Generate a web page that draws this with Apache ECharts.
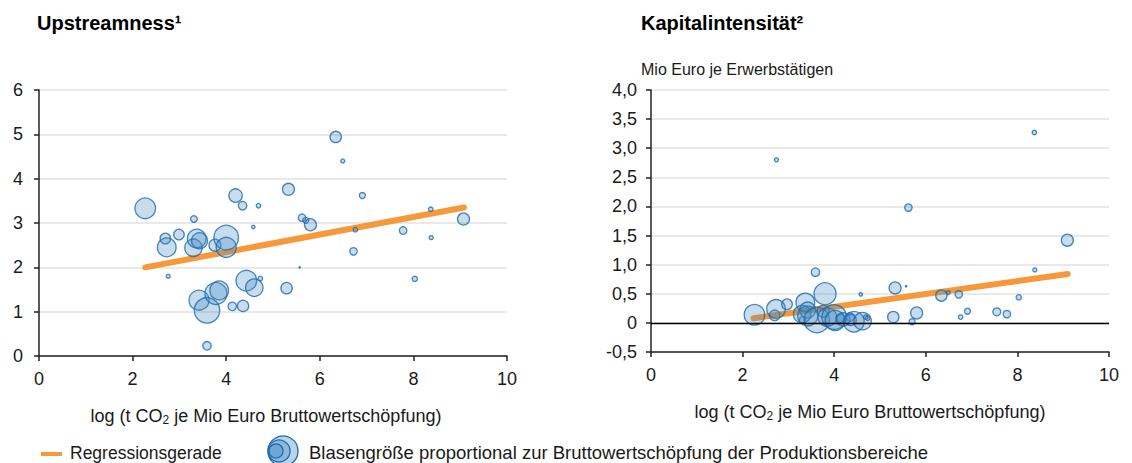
<!DOCTYPE html>
<html><head><meta charset="utf-8">
<script src="https://cdn.jsdelivr.net/npm/echarts@6/dist/echarts.min.js"></script>
<style>html,body{margin:0;padding:0;background:#fff}#c{width:1132px;height:463px}</style>
</head><body><div id="c"></div>
<script>
// Left panel: Upstreamness
const upX   = [2.27,2.76,2.70,2.73,2.99,3.31,3.30,3.37,3.43,3.42,3.59,3.59,3.76,3.78,3.85,4.00,4.00,4.13,4.20,4.35,4.36,4.43,4.58,4.60,4.69,4.73,5.29,5.33,5.57,5.62,5.70,5.80,6.34,6.49,6.72,6.76,6.91,7.78,8.03,8.37,8.38,9.07];
const upY   = [3.33,1.80,2.65,2.45,2.74,3.09,2.44,2.65,2.60,1.26,1.03,0.23,2.50,1.41,1.48,2.67,2.45,1.12,3.62,3.39,1.13,1.70,2.91,1.54,3.39,1.75,1.53,3.76,2.00,3.12,3.06,2.96,4.94,4.40,2.36,2.85,3.62,2.83,1.74,3.31,2.67,3.09];
const upBws = [106,4,28,87,28,11,76,87,64,100,161,18,36,121,87,151,100,18,45,18,32,106,3,76,5,5,32,36,0.5,14,9,36,32,4,14,5,9,14,7,5,4,36];
const upReg = [[2.27,2.00],[9.08,3.35]];

// Right panel: Kapitalintensität
const kiX   = [2.26,2.74,2.70,2.73,2.97,3.31,3.30,3.37,3.42,3.42,3.62,3.59,3.76,3.80,3.85,4.00,4.02,4.13,4.20,4.35,4.36,4.43,4.58,4.62,4.69,4.73,5.29,5.33,5.57,5.62,5.70,5.80,6.34,6.49,6.72,6.76,6.91,7.55,7.77,8.03,8.37,8.38,9.09];
const kiY   = [0.14,2.80,0.13,0.24,0.32,0.05,0.15,0.35,0.22,0.12,0.05,0.87,0.20,0.50,0.10,0.10,0.04,0.08,0.06,0.10,0.05,0.02,0.49,0.03,0.10,0.08,0.10,0.60,0.63,1.98,0.02,0.17,0.47,0.52,0.49,0.10,0.20,0.19,0.15,0.44,3.27,0.91,1.42];
const kiBws = [106,4,28,87,28,11,76,87,64,100,161,18,36,121,87,151,100,18,45,18,32,106,3,76,5,5,32,36,0.5,14,9,36,32,4,14,5,9,16,14,7,5,4,36];
const kiReg = [[2.24,0.08],[9.10,0.84]];

const xName = 'log (t CO{sub|2} je Mio Euro Bruttowertschöpfung)';

const FONT = 'Liberation Sans, Arial, sans-serif';
const txt = '#1a1a1a';
const axisCol = '#222';
const bubbleFill = 'rgba(66,136,194,0.37)';
const bubbleLine = '#1d6aae';
const orange = '#F7993A';

function pts(xs, ys, ws){ return xs.map((x,i)=>[x, ys[i], ws[i]]); }
const sz = d => 2*Math.sqrt(d[2]);

function xAxis(gi, padRight){
  return {
    gridIndex: gi, type:'value', min:0, max:10, interval:2,
    axisLine:{onZero:false, lineStyle:{color:axisCol, width:1.5}},
    axisTick:{show:true, length:5, lineStyle:{color:axisCol, width:1.5}},
    axisLabel:{color:txt, fontSize:18, fontFamily:FONT, margin:14},
    splitLine:{show:false},
    name:xName, nameLocation:'middle', nameGap:50,
    nameTextStyle:{color:txt, fontSize:18, fontFamily:FONT, padding:[0,padRight,0,0],
      rich:{sub:{fontSize:12, verticalAlign:'bottom', padding:[8,0,0,0], color:txt, fontFamily:FONT}}}
  };
}
function yAxis(gi, min, max, interval, fmt, margin){
  return {
    gridIndex: gi, type:'value', min, max, interval,
    axisLine:{show:true, onZero:false, lineStyle:{color:axisCol, width:1.5}},
    axisTick:{show:true, length:5, lineStyle:{color:axisCol, width:1.5}},
    axisLabel:{color:txt, fontSize:18, fontFamily:FONT, margin, formatter:fmt},
    splitLine:{show:true, lineStyle:{color:'#e9e9e9', width:2}}
  };
}
const commaFmt = v => v===0 ? '0' : v.toFixed(1).replace('.', ',');

const chart = echarts.init(document.getElementById('c'), null, {renderer:'svg'});
chart.setOption({
  animation:false,
  grid:[
    {left:39, top:90, width:468, height:266},
    {left:651, top:90, width:458, height:262}
  ],
  xAxis:[xAxis(0,14), xAxis(1,20)],
  yAxis:[yAxis(0,0,6,1,v=>String(v),16), yAxis(1,-0.5,4.0,0.5,commaFmt,14)],
  series:[
    {type:'line', xAxisIndex:0, yAxisIndex:0, data:upReg, symbol:'none', z:1,
     lineStyle:{color:orange, width:6, cap:'round'}},
    {type:'scatter', xAxisIndex:0, yAxisIndex:0, data:pts(upX,upY,upBws), symbolSize:sz, z:2,
     itemStyle:{color:bubbleFill, borderColor:bubbleLine, borderWidth:1.3}},
    {type:'line', xAxisIndex:1, yAxisIndex:1, data:kiReg, symbol:'none', z:1,
     lineStyle:{color:orange, width:6, cap:'round'},
     markLine:{silent:true, symbol:'none', label:{show:false},
       lineStyle:{color:'#000', width:1.3, type:'solid'}, data:[{yAxis:0}]}},
    {type:'scatter', xAxisIndex:1, yAxisIndex:1, data:pts(kiX,kiY,kiBws), symbolSize:sz, z:2,
     itemStyle:{color:bubbleFill, borderColor:bubbleLine, borderWidth:1.3}}
  ],
  graphic:[
    {type:'text', left:37, top:13, style:{text:'Upstreamness¹', font:'bold 20px '+FONT, fill:'#000'}},
    {type:'text', left:641, top:13, style:{text:'Kapitalintensität²', font:'bold 20px '+FONT, fill:'#000'}},
    {type:'text', left:641, top:61, style:{text:'Mio Euro je Erwerbstätigen', font:'16px '+FONT, fill:txt}},
    {type:'line', shape:{x1:41, y1:454, x2:62, y2:454}, style:{stroke:orange, lineWidth:4}},
    {type:'text', left:70, top:444, style:{text:'Regressionsgerade', font:'17.5px '+FONT, fill:txt}},
    {type:'circle', shape:{cx:283, cy:451, r:15}, style:{fill:bubbleFill, stroke:bubbleLine, lineWidth:1.3}},
    {type:'circle', shape:{cx:279, cy:451, r:11}, style:{fill:bubbleFill, stroke:bubbleLine, lineWidth:1.3}},
    {type:'circle', shape:{cx:276, cy:451, r:7}, style:{fill:bubbleFill, stroke:bubbleLine, lineWidth:1.3}},
    {type:'text', left:309, top:443, style:{text:'Blasengröße proportional zur Bruttowertschöpfung der Produktionsbereiche', font:'18.5px '+FONT, fill:txt}}
  ]
});
</script></body></html>
